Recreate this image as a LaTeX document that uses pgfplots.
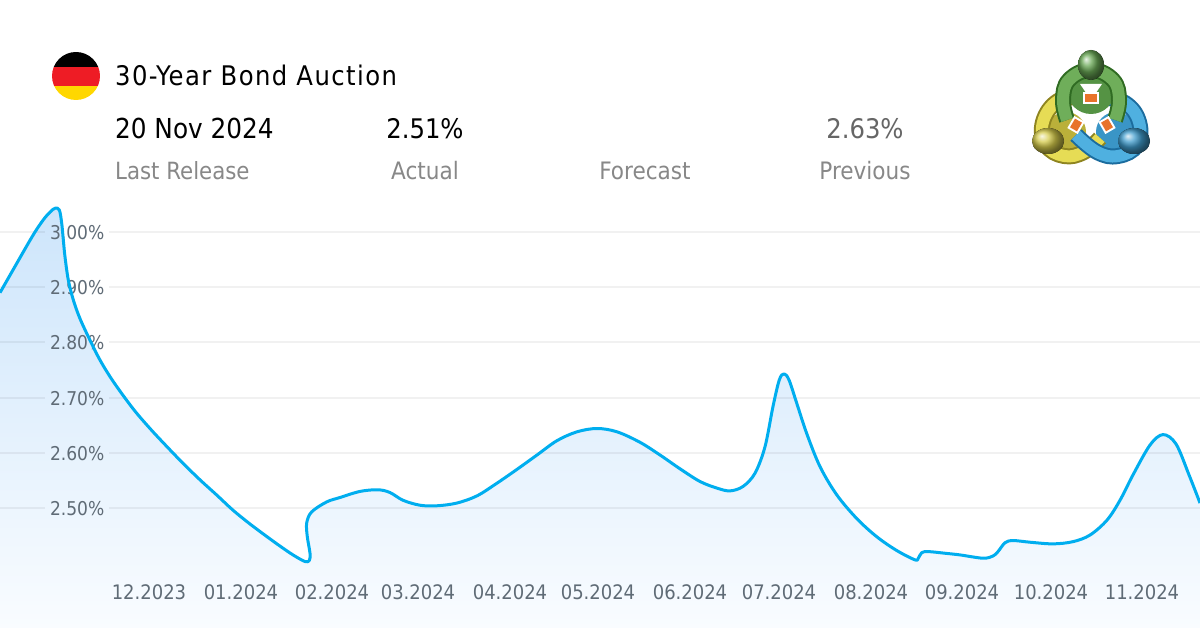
\documentclass[border=0pt]{standalone}
\usepackage{fontspec}
\setmainfont{DejaVu Sans Condensed}
\usepackage{pgfplots}
\usepackage{pgfplotstable}
\pgfplotsset{compat=1.18}
\definecolor{curve}{HTML}{00AEEF}
\definecolor{fillTop}{HTML}{CDE5FB}
\definecolor{fillBot}{HTML}{F9FCFF}
\definecolor{tickcol}{HTML}{5F6B76}
\definecolor{labelcol}{HTML}{888888}
\definecolor{flagred}{HTML}{EE1C25}
\definecolor{flagyel}{HTML}{FFD700}
\definecolor{gDark}{HTML}{2F6B22}
\definecolor{gLight}{HTML}{6FAE5A}
\definecolor{yDark}{HTML}{8E8420}
\definecolor{yLight}{HTML}{E6DC55}
\definecolor{bDark}{HTML}{1B6C9E}
\definecolor{bLight}{HTML}{4FB0E0}
\definecolor{tag}{HTML}{E8732A}
% x in pixels of the 1200 wide picture, y in percent
\pgfplotstableread{
x y
0 2.890
16.7 2.943
33.3 2.995
43.3 3.022
50 3.036
55 3.043
59.3 3.040
61.7 3.016
63.3 2.986
65 2.955
68.3 2.913
73.3 2.877
80 2.843
90 2.804
100 2.768
113.3 2.729
133 2.680
150 2.644
167 2.611
183 2.581
200 2.551
217 2.523
233 2.496
250 2.471
267 2.448
280 2.431
293 2.415
305 2.403
309.3 2.405
310 2.418
307.3 2.448
306.7 2.473
311.7 2.493
326.7 2.511
340 2.519
360 2.530
378 2.533
390 2.528
403 2.514
420 2.505
437 2.504
457 2.509
477 2.522
497 2.545
517 2.570
537 2.596
557 2.622
577 2.638
597 2.644
617 2.638
640 2.619
660 2.596
680 2.571
700 2.548
717 2.536
730 2.531
743 2.539
755 2.563
765 2.611
773 2.684
779.3 2.732
784 2.743
789 2.732
796.7 2.690
806.7 2.635
820 2.575
836.7 2.524
856.7 2.481
876.7 2.448
896.7 2.423
915 2.406
918.3 2.409
921.7 2.419
928.3 2.421
945 2.418
960 2.415
983 2.409
993 2.413
998 2.421
1005 2.437
1013 2.441
1030 2.438
1053 2.435
1073 2.439
1090 2.451
1107 2.478
1120 2.514
1133 2.560
1150 2.614
1163 2.633
1176 2.616
1189 2.560
1200 2.509
}\curvedata
\begin{document}
\begin{tikzpicture}
\useasboundingbox (0,0) rectangle (1200pt,628pt);
\fill[white] (0,0) rectangle (1200pt,628pt);
\pgfplotsset{frame/.style={
  at={(0,0)}, anchor=south west,
  scale only axis,
  width=1200pt, height=628pt,
  xmin=0, xmax=1200,
  ymin=2.2826, ymax=3.4203}}
\begin{axis}[
  frame,
  axis on top,
  axis line style={draw=none},
  major tick length=0pt,
  unbounded coords=jump,
  xtick={149,241,332,418,510,598,690,779,871,962,1051,1142},
  xticklabels={12.2023,01.2024,02.2024,03.2024,04.2024,05.2024,06.2024,07.2024,08.2024,09.2024,10.2024,11.2024},
  xticklabel style={font=\fontsize{20}{20}\selectfont, text=tickcol, anchor=base, inner sep=0pt, yshift=28.5pt},
  ytick={2.5,2.6,2.7,2.8,2.9,3.0},
  yticklabel={\pgfmathprintnumber{\tick}\%},
  yticklabel style={font=\fontsize{19}{20}\selectfont, text=tickcol, anchor=east, inner sep=0pt, xshift=104.5pt, yshift=-0.5pt,
    /pgf/number format/.cd, fixed, fixed zerofill, precision=2, assume math mode=true},
]
\addplot[draw=none, top color=fillTop, bottom color=fillBot, smooth, tension=0.55] table {\curvedata} \closedcycle;
\addplot[black, opacity=0.055, line width=2pt] coordinates {
  (0,3.0)(45,3.0)(nan,nan)(109,3.0)(1200,3.0)(nan,nan)
  (0,2.9)(45,2.9)(nan,nan)(109,2.9)(1200,2.9)(nan,nan)
  (0,2.8)(45,2.8)(nan,nan)(109,2.8)(1200,2.8)(nan,nan)
  (0,2.7)(45,2.7)(nan,nan)(109,2.7)(1200,2.7)(nan,nan)
  (0,2.6)(45,2.6)(nan,nan)(109,2.6)(1200,2.6)(nan,nan)
  (0,2.5)(45,2.5)(nan,nan)(109,2.5)(1200,2.5)
};
\end{axis}
% the line runs over the tick labels, so it gets its own axis
\begin{axis}[frame, hide axis]
\addplot[curve, line width=3pt, smooth, tension=0.55, line join=round] table {\curvedata};
\end{axis}
% header, in pixel coordinates from the top left
\begin{scope}[x=1pt,y=-1pt,yshift=628pt]
  \begin{scope}
    \clip (76,76) circle (24);
    \fill[black] (52,52) rectangle (100,67);
    \fill[flagred] (52,67) rectangle (100,86);
    \fill[flagyel] (52,86) rectangle (100,100);
  \end{scope}
  \node[anchor=base west, inner sep=0pt, font=\fontsize{27}{30}\selectfont\addfontfeatures{LetterSpace=5.4}] at (115,86) {30-Year Bond Auction};
  \node[anchor=base west, inner sep=0pt, font=\fontsize{27.5}{30}\selectfont] at (115,139) {20 Nov 2024};
  \node[anchor=base, inner sep=0pt, font=\fontsize{27}{30}\selectfont] at (425,139) {2.51\%};
  \node[anchor=base, inner sep=0pt, font=\fontsize{27}{30}\selectfont, text=black!60] at (865,139) {2.63\%};
  \node[anchor=base west, inner sep=0pt, font=\fontsize{23.7}{26}\selectfont, text=labelcol] at (115,179.5) {Last Release};
  \node[anchor=base, inner sep=0pt, font=\fontsize{24}{26}\selectfont, text=labelcol] at (425,179.5) {Actual};
  \node[anchor=base, inner sep=0pt, font=\fontsize{24}{26}\selectfont, text=labelcol] at (645,179.5) {Forecast};
  \node[anchor=base, inner sep=0pt, font=\fontsize{24}{26}\selectfont, text=labelcol] at (865,179.5) {Previous};
  % logo
  \def\ring#1#2#3{%
    \draw[line width=16pt, #1] plot[smooth, tension=0.7] coordinates {#3};
    \draw[line width=12pt, #2] plot[smooth, tension=0.7] coordinates {#3};}
  \fill[yDark!50!yLight] (1066,132) circle (20);
  \fill[bDark!40!bLight] (1116,132) circle (20);
  \ring{yDark}{yLight}{(1082,97) (1058,101) (1043,122) (1046,145) (1064,156) (1084,152) (1100,138)}
  \ring{bDark}{bLight}{(1101,97) (1125,103) (1139,122) (1137,145) (1118,156) (1097,152) (1076,135)}
  \fill[gDark!40!gLight] (1091,90) circle (24);
  \fill[white] (1080,84) -- (1102,84) -- (1091,100) -- cycle;
  \ring{gDark}{gLight}{(1067,120) (1063,100) (1069,80) (1091,70) (1113,80) (1119,100) (1115,120)}
  \fill[ball color=gLight!90!gDark] (1091,65) ellipse (13 and 15);
  \fill[ball color=yLight!80!yDark] (1048,141) ellipse (16 and 13);
  \fill[ball color=bLight!70!bDark] (1134,141) ellipse (16 and 13);
  \fill[white] (1083,92) rectangle (1099,104);
  \fill[tag] (1085,94) rectangle (1097,102);
  \fill[white,rotate around={-30:(1076,125)}] (1070,118) rectangle (1082,132);
  \fill[tag,rotate around={-30:(1076,125)}] (1072,120) rectangle (1080,130);
  \fill[white,rotate around={30:(1107,125)}] (1101,118) rectangle (1113,132);
  \fill[tag,rotate around={30:(1107,125)}] (1103,120) rectangle (1111,130);
\end{scope}
\end{tikzpicture}
\end{document}
